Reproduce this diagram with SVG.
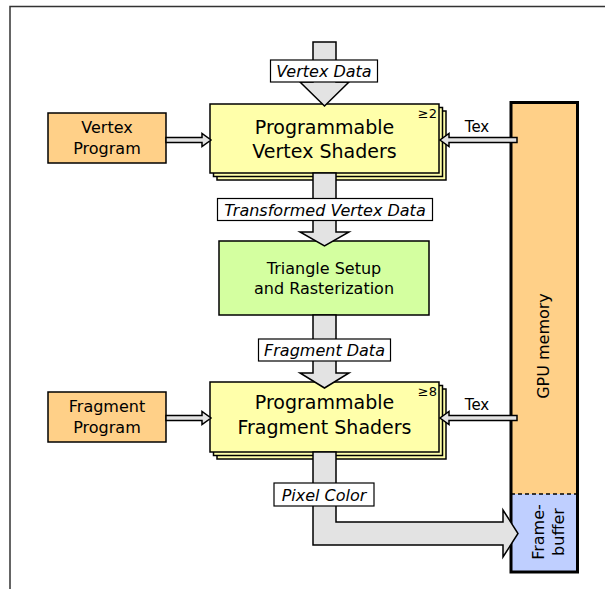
<svg xmlns="http://www.w3.org/2000/svg" width="605" height="589" viewBox="0 0 605 589">
<defs>
<style>
text{font-family:"DejaVu Sans","Liberation Sans",sans-serif;fill:#000}
.big{font-size:19px;text-anchor:middle}
.mid{font-size:16px;text-anchor:middle}
.tex{font-size:15px;text-anchor:middle}
.lbl{font-size:16px;font-style:italic;text-anchor:middle}
.sup{font-size:13px;text-anchor:end}
.shader{fill:#ffffaa;stroke:#000;stroke-width:1.5}
.prog{fill:#ffd088;stroke:#000;stroke-width:1.5}
.flow{fill:#e3e3e3;stroke:#000;stroke-width:1.5;stroke-linejoin:miter}
.lbox{fill:#fff;stroke:#000;stroke-width:1.2}
</style>
</defs>
<rect width="605" height="589" fill="#fff"/>
<path d="M10,589 V6.5 H605" fill="none" stroke="#333" stroke-width="1.5"/>

<g id="gpu-memory">
<rect x="511" y="102.5" width="66.5" height="469.5" fill="#ffd088"/>
<rect x="511" y="494" width="66.5" height="78" fill="#bfcfff"/>
<line x1="511" y1="494" x2="577.5" y2="494" stroke="#000" stroke-width="1.5" stroke-dasharray="4,3"/>
<rect x="511" y="102.5" width="66.5" height="469.5" fill="none" stroke="#000" stroke-width="3"/>
<text class="mid" transform="rotate(-90 549 346)" x="549" y="346">GPU memory</text>
</g>

<g id="vertex-shaders">
<rect class="shader" x="217" y="111" width="229" height="69"/>
<rect class="shader" x="213.5" y="107.5" width="229" height="69"/>
<rect class="shader" x="210" y="104" width="229" height="69"/>
<text class="big" x="324.5" y="134">Programmable</text>
<text class="big" x="324.5" y="158">Vertex Shaders</text>
<text class="sup" x="437" y="118">≥2</text>
</g>

<g id="triangle-setup">
<rect x="219" y="241" width="210" height="74" fill="#d4ffa0" stroke="#000" stroke-width="1.5"/>
<text class="mid" x="324" y="274">Triangle Setup</text>
<text class="mid" x="324" y="294">and Rasterization</text>
</g>

<g id="fragment-shaders">
<rect class="shader" x="217" y="389" width="229" height="70"/>
<rect class="shader" x="213.5" y="385.5" width="229" height="70"/>
<rect class="shader" x="210" y="382" width="229" height="70"/>
<text class="big" x="324.5" y="409">Programmable</text>
<text class="big" x="324.5" y="434">Fragment Shaders</text>
<text class="sup" x="437" y="396">≥8</text>
</g>

<g id="vertex-program">
<rect class="prog" x="48" y="113" width="118" height="50"/>
<text class="mid" x="107" y="133">Vertex</text>
<text class="mid" x="107" y="154">Program</text>
</g>

<g id="fragment-program">
<rect class="prog" x="48" y="392" width="118" height="50"/>
<text class="mid" x="107" y="412">Fragment</text>
<text class="mid" x="107" y="433">Program</text>
</g>

<g id="connectors">
<polygon class="flow" points="313,42 336,42 336,82 349,82 324.5,106 300,82 313,82"/>
<rect class="lbox" x="270.5" y="60" width="107" height="22"/>
<text class="lbl" x="324" y="77">Vertex Data</text>

<polygon class="flow" points="313,173 336,173 336,232 349,232 324.5,246 300,232 313,232"/>
<rect class="lbox" x="217.5" y="198.5" width="215" height="22"/>
<text class="lbl" x="325" y="215.5">Transformed Vertex Data</text>

<polygon class="flow" points="313,315 336,315 336,373 349,373 324.5,388 300,373 313,373"/>
<rect class="lbox" x="258.5" y="339" width="132" height="22"/>
<text class="lbl" x="324.5" y="356">Fragment Data</text>

<polygon class="flow" points="313,452 336,452 336,522 503,522 503,510 518,533.5 503,557 503,545 313,545"/>
<rect class="lbox" x="274" y="483" width="100" height="23"/>
<text class="lbl" x="324" y="500.5">Pixel Color</text>

<polygon class="flow" points="166,137.5 202,137.5 202,133.5 211,140 202,146.5 202,142.5 166,142.5"/>
<polygon class="flow" points="166,415.5 202,415.5 202,411.5 211,418 202,424.5 202,420.5 166,420.5"/>
<polygon class="flow" points="517,137.5 449,137.5 449,133.5 440,140 449,146.5 449,142.5 517,142.5"/>
<polygon class="flow" points="517,415.5 449,415.5 449,411.5 440,418 449,424.5 449,420.5 517,420.5"/>
<text class="tex" x="477" y="132">Tex</text>
<text class="tex" x="477" y="410">Tex</text>
</g>

<g id="framebuffer-label">
<text class="mid" transform="rotate(-90 544 532)" x="544" y="532">Frame-</text>
<text class="mid" transform="rotate(-90 563.5 532)" x="563.5" y="532">buffer</text>
</g>
</svg>
